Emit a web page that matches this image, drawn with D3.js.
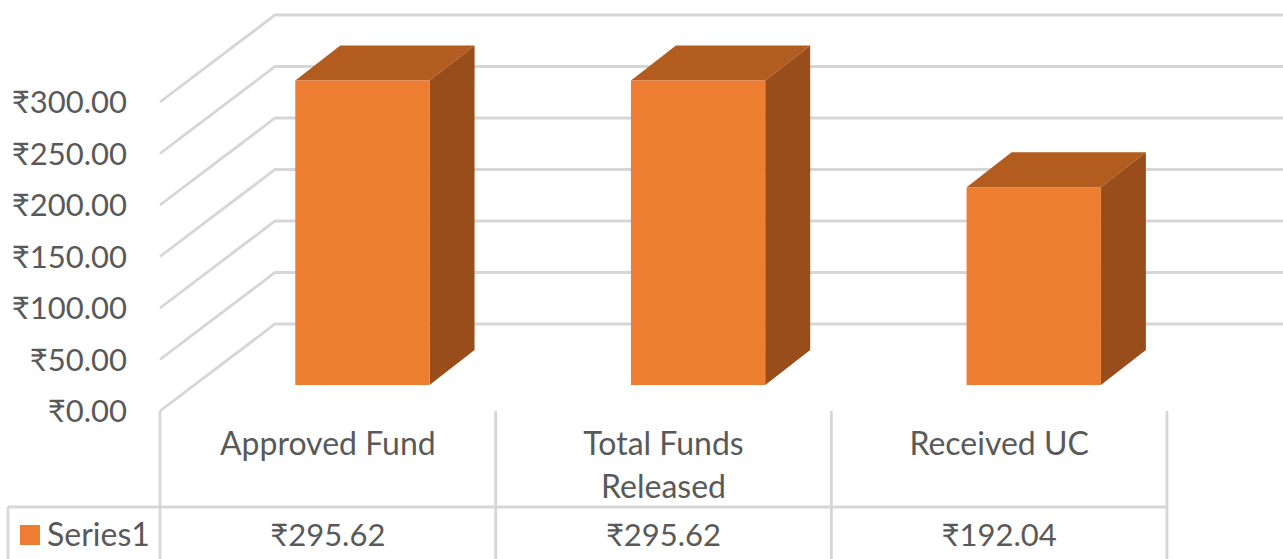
<!DOCTYPE html>
<html>
<head>
<meta charset="utf-8">
<script src="https://cdn.jsdelivr.net/npm/d3@7"></script>
<style>
  html, body { margin: 0; padding: 0; background: #fff; overflow: hidden; }
  text { font-family: Lato, "Open Sans", "Noto Sans", sans-serif; fill: #595959; }
</style>
</head>
<body>
<svg></svg>
<script>
// Dimension constants
const WIDTH = 1283;
const HEIGHT = 559;

// data
const categories = ['Approved Fund', 'Total Funds Released', 'Received UC'];
const categoryLines = [['Approved Fund'], ['Total Funds', 'Released'], ['Received UC']];
const values = [295.62, 295.62, 192.04];
const yTicks = [0, 50, 100, 150, 200, 250, 300];
const seriesName = 'Series1';

// colors
const GRID = '#d6d6d6';
const TEXT = '#595959';
const FRONT = '#ed7d31';
const TOP = '#b25c20';
const SIDE = '#984d1b';

// font sizes, words run a bit wider than numbers in the original
const NUM_SIZE = 31;
const WORD_SIZE = 32;

// 3d offsets of the wall and of the bars
const WALL_DX = 115;
const WALL_DY = -87;
const BAR_DX = 45;
const BAR_DY = -35;
const BAR_LIFT = 26;

const svg = d3.select('svg')
    .attr('width', WIDTH)
    .attr('height', HEIGHT)
    .style('display', 'block');

const fmt = d => `₹${d.toFixed(2)}`;

const x = d3.scaleBand()
    .domain(categories)
    .range([160, 1167]);

const y = d3.scaleLinear()
    .domain([0, 300])
    .range([411, 102]);

// gridlines, side wall then back wall
const gridLine = d3.line();
svg.append('g').selectAll('path')
    .data(yTicks).enter().append('path')
    .attr('d', d => gridLine([
        [160, y(d)],
        [160 + WALL_DX, y(d) + WALL_DY],
        [WIDTH, y(d) + WALL_DY]
    ]))
    .attr('fill', 'none')
    .attr('stroke', GRID)
    .attr('stroke-width', 2.8);

// y axis
const yAxis = svg.append('g')
    .attr('transform', 'translate(127, 0)')
    .call(d3.axisLeft(y).tickValues(yTicks).tickSize(0).tickPadding(0).tickFormat(fmt));
yAxis.select('.domain').remove();
yAxis.selectAll('text')
    .attr('font-size', NUM_SIZE)
    .attr('dy', '0.35em')
    .style('font-family', 'Lato, "Open Sans", sans-serif')
    .style('fill', TEXT);

// bars
const barW = x.bandwidth() * 0.4;
const barX = d => x(d) + x.bandwidth() * 0.403;
const barBase = y(0) - BAR_LIFT;
const barTop = d => y(d) - BAR_LIFT;

const bars = svg.append('g').selectAll('g')
    .data(categories).enter().append('g');

bars.append('path')
    .attr('fill', SIDE)
    .attr('d', (c, i) => gridLine([
        [barX(c) + barW, barTop(values[i])],
        [barX(c) + barW + BAR_DX, barTop(values[i]) + BAR_DY],
        [barX(c) + barW + BAR_DX, barBase + BAR_DY],
        [barX(c) + barW, barBase]
    ]) + 'Z');

bars.append('path')
    .attr('fill', TOP)
    .attr('d', (c, i) => gridLine([
        [barX(c), barTop(values[i])],
        [barX(c) + BAR_DX, barTop(values[i]) + BAR_DY],
        [barX(c) + barW + BAR_DX, barTop(values[i]) + BAR_DY],
        [barX(c) + barW, barTop(values[i])]
    ]) + 'Z');

bars.append('rect')
    .attr('fill', FRONT)
    .attr('x', c => barX(c))
    .attr('y', (c, i) => barTop(values[i]))
    .attr('width', barW)
    .attr('height', (c, i) => barBase - barTop(values[i]));

// data table lines
const TABLE_TOP = 411;
const TABLE_MID = 507;
const TABLE_LEFT = 8;

const table = svg.append('g')
    .attr('stroke', GRID)
    .attr('stroke-width', 2.8);

table.selectAll('.v-line')
    .data([...categories.map(c => x(c)), x.range()[1]]).enter().append('line')
    .attr('class', 'v-line')
    .attr('x1', d => d).attr('x2', d => d)
    .attr('y1', TABLE_TOP).attr('y2', HEIGHT);

table.append('line')
    .attr('x1', TABLE_LEFT).attr('x2', x.range()[1])
    .attr('y1', TABLE_MID).attr('y2', TABLE_MID);

table.append('line')
    .attr('x1', TABLE_LEFT).attr('x2', TABLE_LEFT)
    .attr('y1', TABLE_MID).attr('y2', HEIGHT);

// category labels
const labels = svg.append('g').selectAll('text')
    .data(categories).enter().append('text')
    .attr('text-anchor', 'middle')
    .attr('font-size', WORD_SIZE);

labels.selectAll('tspan')
    .data((c, i) => categoryLines[i].map(line => ({ c, line }))).enter().append('tspan')
    .attr('x', d => x(d.c) + x.bandwidth() / 2)
    .attr('y', (d, i) => 455 + i * 43)
    .text(d => d.line);

// data table values
svg.append('g').selectAll('text')
    .data(categories).enter().append('text')
    .attr('text-anchor', 'middle')
    .attr('font-size', NUM_SIZE)
    .attr('x', c => x(c) + x.bandwidth() / 2)
    .attr('y', 546)
    .text((c, i) => fmt(values[i]));

// legend key
svg.append('rect')
    .attr('x', 20).attr('y', 525)
    .attr('width', 20).attr('height', 20)
    .attr('fill', FRONT);

svg.append('text')
    .attr('x', 47).attr('y', 546)
    .attr('font-size', WORD_SIZE)
    .text(seriesName);
</script>
</body>
</html>
